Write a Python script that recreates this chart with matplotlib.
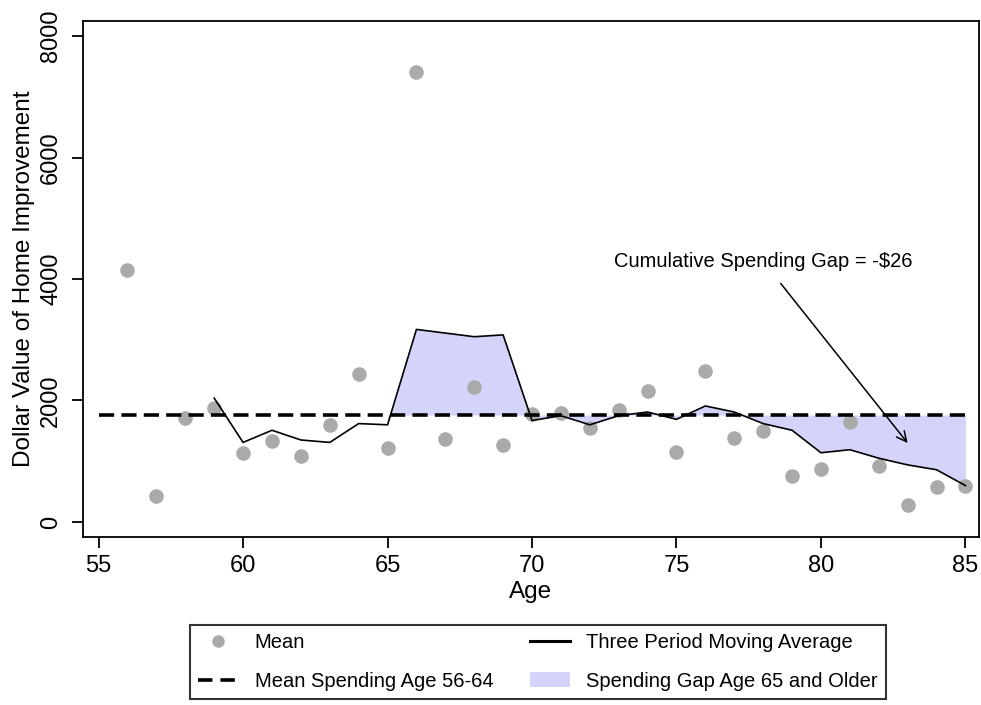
import matplotlib
matplotlib.use("Agg")
import matplotlib.pyplot as plt
from matplotlib.lines import Line2D
from matplotlib.patches import Patch

# mean home improvement spending by age
ages = list(range(56, 86))
mean_spending = [4150, 430, 1710, 1870, 1140, 1340, 1080, 1590, 2440, 1210,
                 7410, 1370, 2220, 1270, 1780, 1790, 1550, 1850, 2160, 1160,
                 2480, 1390, 1490, 750, 880, 1650, 920, 280, 570, 590]

# three period moving average (starts at age 59)
ma_ages = list(range(59, 86))
moving_avg = [2040, 1310, 1510, 1350, 1310, 1620, 1600, 3170, 3110, 3050,
              3080, 1670, 1750, 1600, 1750, 1810, 1690, 1910, 1810, 1620,
              1510, 1140, 1190, 1050, 940, 860, 600]

mean_56_64 = 1760
line_ages = [55, 85]
gap_start = 65

x_ticks = [55, 60, 65, 70, 75, 80, 85]
y_ticks = [0, 2000, 4000, 6000, 8000]

gap_text = "Cumulative Spending Gap = -$26"

plt.rcParams["font.family"] = ["Liberation Sans", "DejaVu Sans"]


def main():
    fig = plt.figure(figsize=(9.81, 7.05), dpi=100)
    ax = fig.add_axes([83 / 981, 1 - 537 / 705, 896 / 981, 516 / 705])

    gap_x = [a for a in ma_ages if a >= gap_start]
    gap_y = [v for a, v in zip(ma_ages, moving_avg) if a >= gap_start]
    ax.fill_between(gap_x, gap_y, [mean_56_64] * len(gap_x),
                    color="#d4d4fa", linewidth=0, interpolate=True, zorder=1)

    ax.plot(ages, mean_spending, "o", color="#aaaaaa", markersize=10.5,
            markeredgewidth=0, zorder=2)
    ax.plot(line_ages, [mean_56_64] * 2, color="black", linewidth=2.6,
            linestyle=(0, (4.2, 2.0)), zorder=3)
    ax.plot(ma_ages, moving_avg, color="black", linewidth=1.2, zorder=4)

    ax.annotate(gap_text, xy=(83.0, 1300), xytext=(78.0, 4290),
                ha="center", va="center", fontsize=14.5,
                arrowprops=dict(arrowstyle="->", color="black", lw=1.1,
                                mutation_scale=18, shrinkA=9, shrinkB=0))

    ax.set_xlim(54.46, 85.47)
    ax.set_ylim(-247, 8247)
    ax.set_xticks(x_ticks)
    ax.set_yticks(y_ticks)
    ax.tick_params(direction="out", length=8, width=1.3, labelsize=17, pad=5)
    ax.tick_params(axis="y", pad=7)
    for lab in ax.get_yticklabels():
        lab.set_rotation(90)
        lab.set_va("center")
    for s in ax.spines.values():
        s.set_linewidth(1.3)

    ax.set_xlabel("Age", fontsize=17.5, labelpad=3)
    ax.set_ylabel("Dollar Value of Home Improvement", fontsize=17.5, labelpad=4)

    handles = [
        Line2D([], [], marker="o", linestyle="none", color="#aaaaaa",
               markersize=9, markeredgewidth=0),
        Line2D([], [], color="black", linewidth=2.6, linestyle=(0, (4.0, 2.2))),
        Line2D([], [], color="black", linewidth=2.2),
        Patch(facecolor="#d4d4fa", edgecolor="none"),
    ]
    labels = ["Mean", "Mean Spending Age 56-64",
              "Three Period Moving Average", "Spending Gap Age 65 and Older"]
    leg = fig.legend(handles, labels, ncol=2, loc="upper center",
                     bbox_to_anchor=(538 / 981, 1 - 625 / 705),
                     borderaxespad=0, fontsize=14.5, frameon=True,
                     fancybox=False, handlelength=2.0, handletextpad=0.8,
                     columnspacing=1.8, labelspacing=0.95, borderpad=0.42)
    leg.get_frame().set_edgecolor("black")
    leg.get_frame().set_linewidth(1.5)

    fig.savefig("out.png", dpi=100, facecolor="white")


if __name__ == "__main__":
    main()
